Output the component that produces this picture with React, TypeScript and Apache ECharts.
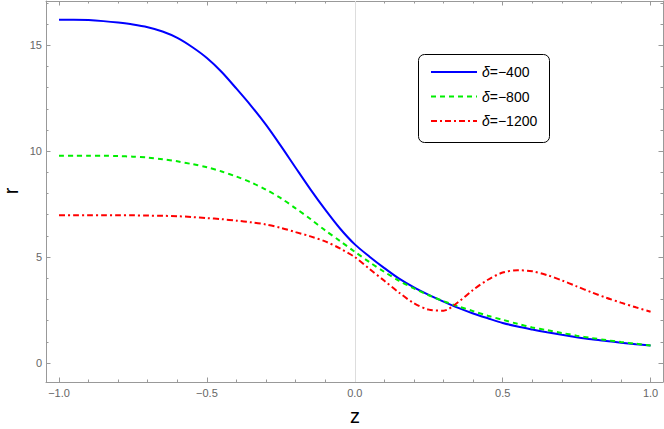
import React, { useEffect, useRef } from "react";
import * as echarts from "echarts";

const zGrid = [-1, -0.95, -0.9, -0.85, -0.8, -0.75, -0.7, -0.65, -0.6, -0.55, -0.5, -0.45, -0.4, -0.35, -0.3, -0.25, -0.2, -0.15, -0.1, -0.05, 0, 0.05, 0.1, 0.15, 0.2, 0.25, 0.3, 0.35, 0.4, 0.45, 0.5, 0.55, 0.6, 0.65, 0.7, 0.75, 0.8, 0.85, 0.9, 0.95, 1.0];
const rDelta400 = [16.21, 16.21, 16.19, 16.14, 16.07, 15.98, 15.85, 15.65, 15.35, 14.92, 14.4, 13.74, 12.95, 12.13, 11.24, 10.25, 9.22, 8.2, 7.24, 6.35, 5.6, 5.02, 4.48, 3.98, 3.57, 3.22, 2.9, 2.6, 2.34, 2.11, 1.89, 1.72, 1.58, 1.45, 1.33, 1.22, 1.12, 1.04, 0.96, 0.89, 0.83];
const rDelta800 = [9.78, 9.78, 9.78, 9.78, 9.77, 9.74, 9.7, 9.62, 9.52, 9.39, 9.24, 9.04, 8.8, 8.52, 8.18, 7.78, 7.3, 6.8, 6.26, 5.76, 5.25, 4.76, 4.3, 3.88, 3.52, 3.2, 2.92, 2.67, 2.45, 2.23, 2.04, 1.85, 1.68, 1.55, 1.42, 1.29, 1.18, 1.08, 0.99, 0.91, 0.83];
const rDelta1200 = [6.98, 6.98, 6.98, 6.98, 6.97, 6.97, 6.96, 6.95, 6.93, 6.89, 6.84, 6.79, 6.72, 6.64, 6.54, 6.38, 6.18, 5.98, 5.74, 5.41, 5.0, 4.44, 3.88, 3.32, 2.82, 2.52, 2.47, 2.88, 3.45, 3.93, 4.27, 4.38, 4.33, 4.15, 3.9, 3.62, 3.34, 3.08, 2.85, 2.63, 2.42];

const seriesNames = ["{i|δ}=−400", "{i|δ}=−800", "{i|δ}=−1200"];
const seriesKeys = ["d400", "d800", "d1200"];

const xMajorTicks = [-1, -0.5, 0, 0.5, 1];
const xMinorTicks = [-0.9, -0.8, -0.7, -0.6, -0.4, -0.3, -0.2, -0.1, 0.1, 0.2, 0.3, 0.4, 0.6, 0.7, 0.8, 0.9];
const yMajorTicks = [0, 5, 10, 15];
const yMinorTicks = [1, 2, 3, 4, 6, 7, 8, 9, 11, 12, 13, 14, 16, 17];

const X_MIN = -1.044;
const X_MAX = 1.042;
const Y_MIN = -0.897;
const Y_MAX = 17.09;

const FRAME = "#999999";
const FONT = "Liberation Sans, Arial, sans-serif";

function App() {
  const ref = useRef<HTMLDivElement>(null);
  useEffect(() => {
    document.body.style.margin = "0";
    const chart = echarts.init(ref.current!, null, { renderer: "svg" });

    const mkX = (position: string, ticks: number[], len: number, line: boolean, labels: boolean) => ({
      type: "value",
      position,
      min: X_MIN,
      max: X_MAX,
      axisLine: { show: line, onZero: false, lineStyle: { color: FRAME, width: 1 } },
      axisTick: { show: true, inside: true, length: len, customValues: ticks, lineStyle: { color: FRAME, width: 1 } },
      axisLabel: labels
        ? {
            show: true,
            customValues: xMajorTicks,
            margin: 5,
            fontSize: 11,
            color: "#666666",
            fontFamily: FONT,
            formatter: (v: number) => (v < 0 ? "−" : "") + Math.abs(v).toFixed(1),
          }
        : { show: false },
      splitLine: { show: false },
    });
    const mkY = (position: string, ticks: number[], len: number, line: boolean, labels: boolean) => ({
      type: "value",
      position,
      min: Y_MIN,
      max: Y_MAX,
      axisLine: { show: line, onZero: false, lineStyle: { color: FRAME, width: 1 } },
      axisTick: { show: true, inside: true, length: len, customValues: ticks, lineStyle: { color: FRAME, width: 1 } },
      axisLabel: labels
        ? {
            show: true,
            customValues: yMajorTicks,
            margin: 4,
            fontSize: 11,
            color: "#666666",
            fontFamily: FONT,
            formatter: (v: number) => String(Math.round(v)),
          }
        : { show: false },
      splitLine: { show: false },
    });

    const styles = [
      { color: "#0000ff", type: "solid" as any },
      { color: "#00ee00", type: [5, 4] as any },
      { color: "#ff0000", type: [6, 3, 2, 3] as any },
    ];
    const datasets = [rDelta400, rDelta800, rDelta1200];

    const series: any[] = datasets.map((vals, k) => ({
      id: seriesKeys[k],
      name: seriesNames[k],
      type: "line",
      xAxisIndex: 0,
      yAxisIndex: 0,
      smooth: 0.3,
      symbol: "none",
      showSymbol: false,
      data: zGrid.map((z, i) => [z, vals[i]]),
      lineStyle: { color: styles[k].color, width: 2, type: styles[k].type },
      itemStyle: { color: styles[k].color },
      z: 3 + k,
    }));
    series[0].markLine = {
      silent: true,
      symbol: "none",
      label: { show: false },
      lineStyle: { color: "#dddddd", width: 1, type: "solid" },
      data: [{ xAxis: 0 }],
      z: 1,
    };

    chart.setOption({
      animation: false,
      backgroundColor: "#ffffff",
      grid: { left: 46, right: 1, top: 1, bottom: 47, containLabel: false },
      xAxis: [
        mkX("bottom", xMajorTicks, 4.5, true, true),
        mkX("bottom", xMinorTicks, 2.5, false, false),
        mkX("top", xMajorTicks, 4.5, true, false),
        mkX("top", xMinorTicks, 2.5, false, false),
      ],
      yAxis: [
        mkY("left", yMajorTicks, 4.5, true, true),
        mkY("left", yMinorTicks, 2.5, false, false),
        mkY("right", yMajorTicks, 4.5, true, false),
        mkY("right", yMinorTicks, 2.5, false, false),
      ],
      legend: {
        orient: "vertical",
        left: 430,
        top: 65,
        padding: 0,
        itemWidth: 46,
        itemHeight: 14,
        itemGap: 10.5,
        data: seriesNames,
        itemStyle: { opacity: 0, borderWidth: 0 },
        textStyle: {
          fontSize: 14,
          color: "#000000",
          fontFamily: FONT,
          rich: { i: { fontStyle: "italic", fontSize: 14, fontFamily: FONT, color: "#000000" } },
        },
      },
      graphic: [
        {
          type: "rect",
          shape: { x: 418.5, y: 54.5, width: 131, height: 88, r: 6 },
          style: { fill: "#ffffff", stroke: "#000000", lineWidth: 1 },
          z: 2,
        },
        {
          type: "text",
          x: 355,
          y: 415.5,
          style: { text: "z", fontSize: 20, fontFamily: FONT, fill: "#000000", align: "center", verticalAlign: "middle" },
        },
        {
          type: "text",
          x: 11,
          y: 191,
          rotation: Math.PI / 2,
          style: { text: "r", fontSize: 20, fontFamily: FONT, fill: "#000000", align: "center", verticalAlign: "middle" },
        },
      ],
      series,
    });
    return () => chart.dispose();
  }, []);
  return <div ref={ref} style={{ width: 664, height: 429 }} />;
}

export default App;
